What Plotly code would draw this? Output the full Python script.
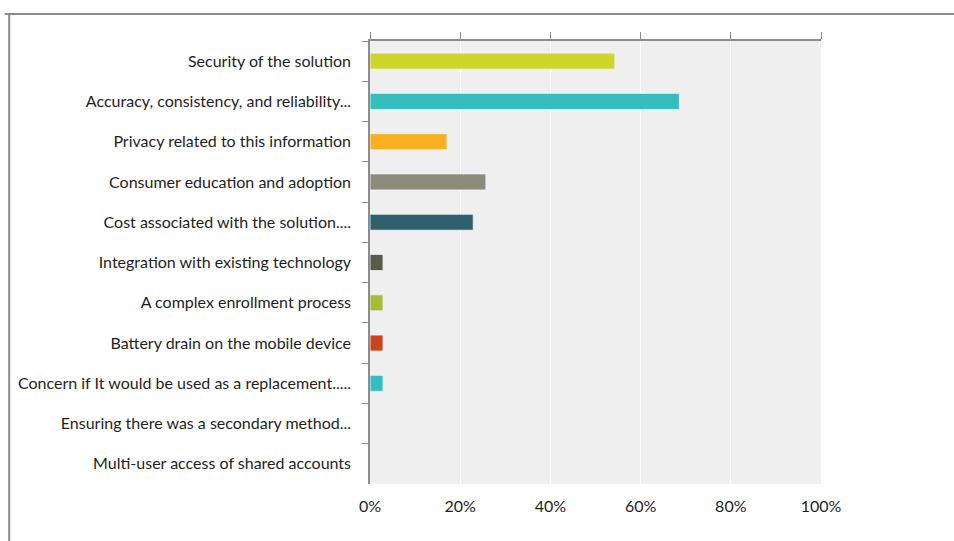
import plotly.graph_objects as go

# Survey: biggest concerns about the solution (share of respondents)
categories = [
    "Security of the solution",
    "Accuracy, consistency, and reliability...",
    "Privacy related to this information",
    "Consumer education and adoption",
    "Cost associated with the solution....",
    "Integration with existing technology",
    "A complex enrollment process",
    "Battery drain on the mobile device",
    "Concern if It would be used as a replacement.....",
    "Ensuring there was a secondary method...",
    "Multi-user access of shared accounts",
]
shares = [0.543, 0.686, 0.171, 0.257, 0.229, 0.029, 0.029, 0.029, 0.029, 0.0, 0.0]
bar_colors = [
    "#d0d52a", "#34bec0", "#f8b020", "#8a8b78", "#2e5f6c", "#5b5a4a",
    "#a9bb35", "#cb4420", "#34bec0", "#34bec0", "#34bec0",
]
tick_vals = [0, 0.2, 0.4, 0.6, 0.8, 1.0]
tick_text = ["0%", "20%", "40%", "60%", "80%", "100%"]

FONT = "Lato, 'Open Sans', sans-serif"
AXIS_GRAY = "#8c8c8c"

fig = go.Figure()
fig.add_trace(go.Bar(
    x=shares, y=categories, orientation="h",
    marker=dict(color=bar_colors, line=dict(color="rgba(255,255,255,0.55)", width=1)),
    hoverinfo="x+y", showlegend=False,
))
# companion trace so the top axis (line + ticks) is rendered
fig.add_trace(go.Bar(
    x=shares, y=categories, orientation="h", xaxis="x2",
    marker=dict(color="rgba(0,0,0,0)"), hoverinfo="skip", showlegend=False,
))

fig.update_layout(
    width=954, height=541,
    margin=dict(l=370, r=133, t=41, b=57),
    paper_bgcolor="white", plot_bgcolor="#efefef",
    bargap=0.6,
    font=dict(family=FONT, size=16, color="#1e1e1e"),
    xaxis=dict(
        range=[0, 1], tickvals=tick_vals, ticktext=tick_text,
        showgrid=True, gridcolor="white", gridwidth=1,
        showline=False, ticks="", zeroline=False,
        ticklabelstandoff=11, fixedrange=True,
    ),
    xaxis2=dict(
        overlaying="x", side="top", range=[0, 1], tickvals=tick_vals,
        showticklabels=False, showgrid=False, zeroline=False,
        showline=True, linecolor=AXIS_GRAY, linewidth=1.5,
        ticks="outside", ticklen=7, tickcolor=AXIS_GRAY, tickwidth=1.2,
    ),
    yaxis=dict(
        autorange="reversed", categoryorder="array", categoryarray=categories,
        showline=True, linecolor=AXIS_GRAY, linewidth=1.5,
        ticks="outside", tickson="boundaries", ticklen=6,
        tickcolor=AXIS_GRAY, tickwidth=1.2, showgrid=False,
        ticklabelstandoff=14,
    ),
    shapes=[
        # outer frame (top and left edges)
        dict(type="line", xref="paper", yref="paper",
             x0=-0.81, x1=1.35, y0=1.061, y1=1.061,
             line=dict(color="#8a8a8a", width=2)),
        dict(type="line", xref="paper", yref="paper",
             x0=-0.80, x1=-0.80, y0=1.061, y1=-0.2,
             line=dict(color="#8a8a8a", width=2)),
    ],
)

fig.write_html("out.html")
